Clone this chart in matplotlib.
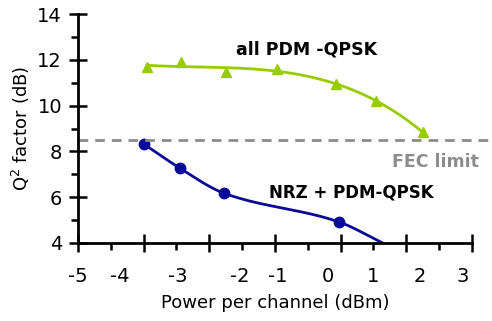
import matplotlib
matplotlib.use("Agg")
import matplotlib.pyplot as plt
import numpy as np

# values
pdm_x = [-3.6, -2.9, -2.0, -0.95, 0.25, 1.05, 2.0]
pdm_q = [11.7, 11.9, 11.45, 11.6, 10.95, 10.2, 8.85]

nrz_x = [-3.66, -2.93, -2.04, 0.3]
nrz_q = [8.32, 7.27, 6.18, 4.92]
# where the NRZ trend line runs into the x axis
nrz_end = (1.19, 4.0)

fec_limit = 8.5

# tick labels sit a bit off the tick marks in the original
xlabel_pos = [-5, -4.15, -2.97, -1.71, -0.94, 0.08, 0.99, 1.94, 2.82]
xlabel_txt = ["-5", "-4", "-3", "-2", "-1", "0", "1", "2", "3"]
yticks = [4, 6, 8, 10, 12, 14]

green = "#99cc00"
blue = "#0a0a96"
grey = "#8c8c8c"


def pchip(x, y, xs):
    # monotone cubic (Fritsch-Carlson), no overshoot between points
    x = np.asarray(x, float)
    y = np.asarray(y, float)
    h = np.diff(x)
    s = np.diff(y) / h
    d = np.zeros_like(y)
    for i in range(1, len(x) - 1):
        if s[i - 1] * s[i] > 0:
            w1 = 2 * h[i] + h[i - 1]
            w2 = h[i] + 2 * h[i - 1]
            d[i] = (w1 + w2) / (w1 / s[i - 1] + w2 / s[i])
    d[0] = s[0]
    d[-1] = s[-1]
    idx = np.clip(np.searchsorted(x, xs) - 1, 0, len(x) - 2)
    t = (xs - x[idx]) / h[idx]
    h00 = 2 * t**3 - 3 * t**2 + 1
    h10 = t**3 - 2 * t**2 + t
    h01 = -2 * t**3 + 3 * t**2
    h11 = t**3 - t**2
    return (h00 * y[idx] + h10 * h[idx] * d[idx]
            + h01 * y[idx + 1] + h11 * h[idx] * d[idx + 1])


plt.rcParams["font.family"] = "DejaVu Sans"

fig = plt.figure(figsize=(4.92, 3.21), dpi=100)
ax = fig.add_axes([0.1585, 0.243, 0.8005, 0.713])

# trend lines
c = np.polyfit(pdm_x, pdm_q, 3)
xs = np.linspace(pdm_x[0], pdm_x[-1], 200)
ax.plot(xs, np.polyval(c, xs), color=green, lw=2)
ax.plot(pdm_x, pdm_q, "^", color=green, ms=7.5)

kx = nrz_x + [nrz_end[0]]
ky = nrz_q + [nrz_end[1]]
xs = np.linspace(kx[0], kx[-1], 200)
ax.plot(xs, pchip(kx, ky, xs), color=blue, lw=2)
ax.plot(nrz_x, nrz_q, "o", color=blue, ms=7.5)

ax.plot([-5, 3.35], [fec_limit, fec_limit], "--", color=grey, lw=2,
        dashes=(3.5, 2.5), clip_on=False)

ax.set_xlim(-5, 3)
ax.set_ylim(4, 14)

for s in ["top", "right"]:
    ax.spines[s].set_visible(False)
for s in ["left", "bottom"]:
    ax.spines[s].set_linewidth(2)

ax.set_xticks(np.linspace(-5, 3, 7))
ax.set_xticks(np.linspace(-5, 3, 13)[1::2], minor=True)
ax.set_xticklabels([])
ax.set_yticks(yticks)
ax.set_yticks([5, 7, 9, 11, 13], minor=True)
ax.tick_params(which="major", direction="inout", length=13, width=1.8,
               labelsize=14)
ax.tick_params(which="minor", direction="out", length=5, width=1.8)
ax.tick_params(axis="y", pad=5)

sec = ax.secondary_xaxis("bottom")
sec.set_xticks(xlabel_pos, xlabel_txt)
sec.tick_params(length=0, labelsize=14, pad=17)
sec.spines["bottom"].set_visible(False)

ax.set_xlabel("Power per channel (dBm)", fontsize=13, labelpad=27)
ax.set_ylabel("Q$^2$ factor (dB)", fontsize=13, labelpad=4)

ax.text(-0.35, 12.45, "all PDM -QPSK", fontsize=12.5, fontweight="bold",
        ha="center", va="center")
ax.text(2.27, 7.55, "FEC limit", fontsize=12.5, fontweight="bold",
        color=grey, ha="center", va="center", clip_on=False)
ax.text(0.56, 6.2, "NRZ + PDM-QPSK", fontsize=12, fontweight="bold",
        ha="center", va="center")

fig.savefig("out.png", dpi=100)
